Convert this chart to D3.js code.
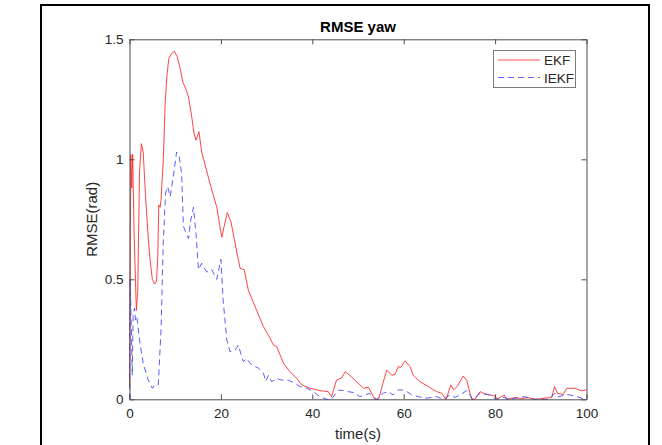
<!DOCTYPE html>
<html>
<head>
<meta charset="utf-8">
<script src="https://cdn.jsdelivr.net/npm/d3@7"></script>
<style>
  html, body { margin: 0; padding: 0; background: #fff; }
  svg { display: block; }
  text { font-family: "Liberation Sans", Arial, Helvetica, sans-serif; }
</style>
</head>
<body>
<svg id="chart" width="662" height="445"></svg>
<script>
// ---- data ----
const ekfTime = [0,0.15,0.3,0.5,0.7,1.0,1.5,1.8,2.2,2.6,3.0,3.5,4.0,4.5,5.0,5.5,5.9,6.2,6.4,6.7,6.9,7.4,7.8,8.2,8.6,9.2,9.8,10.4,11,11.7,12.4,12.9,13.6,14.1,14.55,15.2,15.8,16.5,17.6,19.1,19.7,20.2,20.7,21.4,22.2,23.1,24.2,25.1,26,27.8,29.3,30.6,31.5,32.2,33.7,35.1,36.6,37.7,39.5,41.7,43.5,44.2,45.3,46.4,47.2,48.2,49.7,51.2,52.3,53.4,54.1,54.5,55.5,56.3,57.4,58.1,58.8,59.4,60.3,61.4,62.1,63.6,65.4,67.2,68.3,69.3,70.3,70.9,71.7,73,73.8,74.5,74.9,75.6,76.7,77.8,80,80.3,82,82.5,84.4,85.8,87.3,88.7,92.4,93,93.7,94.9,95.7,97.5,98.9,100];
const ekfValues = [0.05,0.6,1.02,0.88,1.02,0.7,0.37,0.45,0.95,1.065,1.03,0.85,0.7,0.58,0.5,0.48,0.49,0.6,0.81,0.8,0.83,1.0,1.23,1.35,1.42,1.44,1.45,1.43,1.386,1.32,1.29,1.26,1.18,1.11,1.08,1.115,1.03,0.98,0.9,0.8,0.73,0.675,0.72,0.778,0.74,0.65,0.546,0.54,0.455,0.372,0.303,0.26,0.226,0.22,0.15,0.115,0.087,0.06,0.046,0.036,0.032,0.011,0.08,0.089,0.115,0.1,0.073,0.046,0.05,0.01,0,0,0.07,0.122,0.1,0.104,0.136,0.133,0.16,0.136,0.1,0.073,0.053,0.032,0.025,0,0.06,0.04,0.053,0.097,0.08,0.025,0,0,0.032,0.022,0.014,0,0.018,0,0.007,0.003,0.007,0,0.008,0.053,0.025,0.02,0.046,0.046,0.035,0.039];

const iekfTime = [0,0.15,0.4,0.6,0.8,1.1,1.3,1.6,2.3,3.0,4.1,5.0,5.5,6.3,6.9,7.4,7.9,8.35,8.9,9.6,10.3,10.8,11.4,11.8,12.9,13.4,14.0,14.55,15.1,15.8,16.9,18,19.1,20,20.5,21.3,22,23.1,23.8,24.9,25.6,26.7,28.2,29.3,29.8,30.4,31.1,32.2,33.3,34.7,36.2,37.3,38.8,40.2,41.7,43.1,44.2,45.7,46.8,47.9,49.3,50.4,52.6,53.7,54.1,55.5,56.6,57.7,58.8,59.6,60.7,61.8,63.2,64.7,67.2,68.7,70.1,71.2,72.3,73.8,74.5,75.1,76.7,78.9,80.2,82,83,86.5,87.3,88.5,91.6,93.1,93.7,95.7,97.5,99.6,100];
const iekfValues = [0,0.5,0.3,0.1,0.35,0.38,0.33,0.344,0.233,0.15,0.08,0.046,0.06,0.06,0.29,0.66,0.86,0.886,0.844,0.93,1.03,1.02,0.94,0.72,0.67,0.747,0.8,0.69,0.54,0.567,0.53,0.54,0.5,0.583,0.41,0.247,0.198,0.205,0.226,0.157,0.17,0.143,0.13,0.11,0.075,0.1,0.073,0.087,0.08,0.08,0.067,0.053,0.046,0.032,0.011,0,0,0.039,0.036,0.032,0.027,0.011,0.025,0,0,0.025,0.032,0.018,0.039,0.039,0.032,0.018,0.011,0.004,0.011,0,0.018,0.008,0.018,0.036,0.018,0,0.025,0.018,0,0.008,0,0.011,0.007,0,0,0.025,0.01,0.02,0.014,0,0];

const seriesNames = ["EKF", "IEKF"];
const xTicks = [0, 20, 40, 60, 80, 100];
const yTicks = [0, 0.5, 1, 1.5];
const yTickLabels = ["0", "0.5", "1", "1.5"];

// ---- layout ----
const svg = d3.select("#chart");
const L = 129.5, R = 586.5, T = 39.3, B = 399.3;
const axisColor = "#4d4d4d", textColor = "#262626";
const ekfColor = "#ff3030", iekfColor = "#4040ff";

// outer figure frame
svg.append("rect").attr("x", 41).attr("y", 5).attr("width", 608).attr("height", 460)
  .attr("fill", "none").attr("stroke", "#000").attr("stroke-width", 2);

const x = d3.scaleLinear().domain([0, 100]).range([L, R]);
const y = d3.scaleLinear().domain([0, 1.5]).range([B, T]);

// lines
const line = d3.line().x(d => x(d[0])).y(d => y(d[1]));
const ekfData = ekfTime.map((t, i) => [t, ekfValues[i]]);
const iekfData = iekfTime.map((t, i) => [t, iekfValues[i]]);

const plot = svg.append("g");
plot.append("path").datum(ekfData).attr("d", line)
  .attr("fill", "none").attr("stroke", ekfColor).attr("stroke-width", 1).attr("stroke-opacity", 0.9);
plot.append("path").datum(iekfData).attr("d", line)
  .attr("fill", "none").attr("stroke", iekfColor).attr("stroke-width", 1).attr("stroke-opacity", 0.85)
  .attr("stroke-dasharray", "6,4");

// axes (MATLAB style box, ticks inside)
const tickLen = 5;
const gx = svg.append("g").attr("transform", `translate(0,${B})`)
  .call(d3.axisBottom(x).tickValues(xTicks).tickSizeInner(-tickLen).tickSizeOuter(0).tickPadding(9).tickFormat(d3.format("d")));
const gxTop = svg.append("g").attr("transform", `translate(0,${T})`)
  .call(d3.axisTop(x).tickValues(xTicks).tickSizeInner(-tickLen).tickSizeOuter(0).tickFormat(""));
const gy = svg.append("g").attr("transform", `translate(${L},0)`)
  .call(d3.axisLeft(y).tickValues(yTicks).tickSizeInner(-tickLen).tickSizeOuter(0).tickPadding(6)
    .tickFormat((d, i) => yTickLabels[i]));
const gyRight = svg.append("g").attr("transform", `translate(${R},0)`)
  .call(d3.axisRight(y).tickValues(yTicks).tickSizeInner(-tickLen).tickSizeOuter(0).tickFormat(""));

[gx, gxTop, gy, gyRight].forEach(g => {
  g.select(".domain").attr("stroke", axisColor).attr("stroke-width", 1);
  g.selectAll(".tick line").attr("stroke", axisColor);
  g.selectAll(".tick text").attr("fill", textColor)
    .style("font-family", "'Liberation Sans', Arial, sans-serif").style("font-size", "13.5px");
});
// hide end ticks at the corners (they coincide with the box)
gx.selectAll(".tick text").attr("dy", "0.71em");

// title and axis labels
svg.append("text").attr("x", (L + R) / 2).attr("y", 32).attr("text-anchor", "middle")
  .attr("font-weight", "bold").attr("font-size", 15).attr("fill", "#000").text("RMSE yaw");
svg.append("text").attr("x", (L + R) / 2).attr("y", 439).attr("text-anchor", "middle")
  .attr("font-size", 15).attr("fill", textColor).text("time(s)");
svg.append("text").attr("transform", `translate(97,${(T + B) / 2}) rotate(-90)`)
  .attr("text-anchor", "middle").attr("font-size", 15).attr("fill", textColor).text("RMSE(rad)");

// legend
const lg = svg.append("g");
lg.append("rect").attr("x", 493.5).attr("y", 50.5).attr("width", 82).attr("height", 37)
  .attr("fill", "#fff").attr("stroke", "#7a7a7a").attr("stroke-width", 1);
const legendItems = [
  { name: seriesNames[0], color: ekfColor, dash: null, yy: 60 },
  { name: seriesNames[1], color: iekfColor, dash: "6,4", yy: 77.5 }
];
legendItems.forEach(it => {
  lg.append("line").attr("x1", 498).attr("x2", 540).attr("y1", it.yy).attr("y2", it.yy)
    .attr("stroke", it.color).attr("stroke-width", 1).attr("stroke-opacity", 0.85)
    .attr("stroke-dasharray", it.dash);
  lg.append("text").attr("x", 544).attr("y", it.yy + 5).attr("font-size", 13.5)
    .attr("fill", textColor).text(it.name);
});
</script>
</body>
</html>
